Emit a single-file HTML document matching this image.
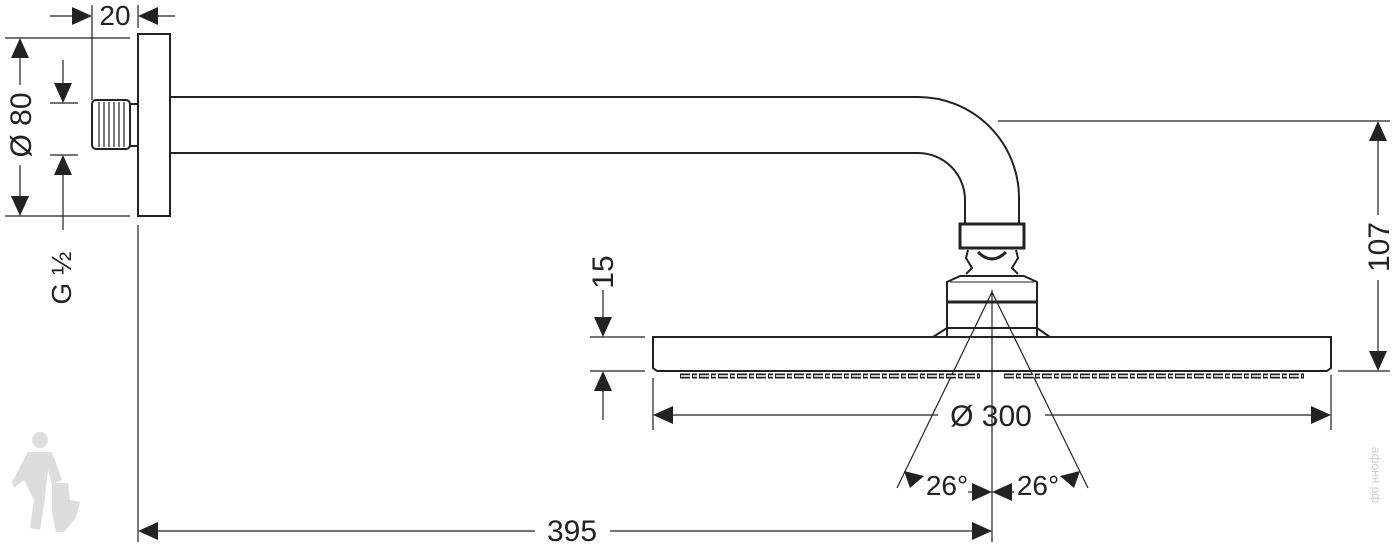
<!DOCTYPE html>
<html><head><meta charset="utf-8"><style>
html,body{margin:0;padding:0;background:#fff;width:1392px;height:544px;overflow:hidden}
svg text{font-family:"Liberation Sans",sans-serif;fill:#222}
</style></head><body>
<svg width="1392" height="544" viewBox="0 0 1392 544" xmlns="http://www.w3.org/2000/svg">
<g fill="none" stroke="#222" stroke-width="1.2">
<line x1="5" y1="38" x2="130" y2="38"/>
<line x1="5" y1="216" x2="130" y2="216"/>
<line x1="50" y1="103" x2="78" y2="103"/>
<line x1="50" y1="155" x2="78" y2="155"/>
<line x1="92" y1="5" x2="92" y2="100"/>
<line x1="138" y1="5" x2="138" y2="28"/>
<line x1="138" y1="225" x2="138" y2="542"/>
<line x1="992" y1="290" x2="992" y2="542"/>
<line x1="998" y1="121" x2="1390" y2="121"/>
<line x1="1338" y1="371" x2="1390" y2="371"/>
<line x1="590" y1="337" x2="645" y2="337"/>
<line x1="590" y1="371" x2="645" y2="371"/>
<line x1="653" y1="378" x2="653" y2="430"/>
<line x1="1331" y1="375" x2="1331" y2="430"/>
<line x1="20" y1="40" x2="20" y2="85"/>
<line x1="20" y1="165" x2="20" y2="214"/>
<line x1="63" y1="60" x2="63" y2="101"/>
<line x1="63" y1="157" x2="63" y2="230"/>
<line x1="50" y1="16" x2="90" y2="16"/>
<line x1="140" y1="16" x2="175" y2="16"/>
<line x1="140" y1="531" x2="535" y2="531"/>
<line x1="610" y1="531" x2="990" y2="531"/>
<line x1="655" y1="415" x2="938" y2="415"/>
<line x1="1045" y1="415" x2="1329" y2="415"/>
<line x1="1378" y1="123" x2="1378" y2="215"/>
<line x1="1378" y1="280" x2="1378" y2="369"/>
<line x1="603" y1="290" x2="603" y2="335"/>
<line x1="603" y1="373" x2="603" y2="420"/>
<line x1="992" y1="292" x2="897" y2="488"/>
<line x1="992" y1="292" x2="1088" y2="488"/>
<line x1="968" y1="492" x2="975" y2="492"/>
<line x1="1008" y1="492" x2="1014" y2="492"/>
</g>
<g fill="none" stroke="#222" stroke-width="2">
<rect x="138" y="34" width="32" height="182"/>
<rect x="92" y="100" width="38" height="49" rx="4"/>
<rect x="130" y="104" width="8" height="42"/>
<path d="M170 97 H918 A101 101 0 0 1 1019 198 V224"/>
<path d="M170 153 H918 A47 47 0 0 1 965 200 V224"/>
<rect x="960" y="224" width="64" height="24" stroke-width="3"/>
<path d="M968 250 L966 258 L972 268 L966 274 M1016 250 L1018 258 L1012 268 L1018 274"/>
<path d="M978 252 Q992 266 1006 252" stroke-width="3"/>
<path d="M947 337 V282 L960 276 H1024 L1037 282 V337"/>
<line x1="947" y1="302" x2="1037" y2="302" stroke-width="3"/>
<path d="M933 337 L947 328 H1037 L1050 337"/>
<path d="M653 337 H1331 V368 L1327 371 H657 L653 368 Z"/>
</g>
<g stroke="#222" stroke-width="1">
<line x1="950" y1="282" x2="1034" y2="282"/>
</g>
<g fill="none" stroke="#222" stroke-width="5" stroke-dasharray="10 2 5 2">
<line x1="680" y1="376" x2="980" y2="376"/>
<line x1="1004" y1="376" x2="1304" y2="376"/>
</g>
<g fill="none" stroke="#fff" stroke-width="1.5" stroke-dasharray="10 2 5 2">
<line x1="681" y1="376" x2="979" y2="376"/>
<line x1="1005" y1="376" x2="1303" y2="376"/>
</g>
<g stroke="#222" stroke-width="1.2">
<line x1="99" y1="102" x2="99" y2="147"/><line x1="104" y1="102" x2="104" y2="147"/>
<line x1="109" y1="102" x2="109" y2="147"/><line x1="114" y1="102" x2="114" y2="147"/>
<line x1="119" y1="102" x2="119" y2="147"/><line x1="124" y1="102" x2="124" y2="147"/>
</g>
<g fill="#222">
<polygon points="20,38 11,58 29,58"/>
<polygon points="20,216 11,196 29,196"/>
<polygon points="63,103 54,83 72,83"/>
<polygon points="63,155 54,175 72,175"/>
<polygon points="92,16 72,7 72,25"/>
<polygon points="138,16 158,7 158,25"/>
<polygon points="138,531 158,522 158,540"/>
<polygon points="992,531 972,522 972,540"/>
<polygon points="653,415 673,406 673,424"/>
<polygon points="1331,415 1311,406 1311,424"/>
<polygon points="1378,121 1369,141 1387,141"/>
<polygon points="1378,371 1369,351 1387,351"/>
<polygon points="603,337 594,317 612,317"/>
<polygon points="603,371 594,391 612,391"/>
<polygon points="992,492 972,483 972,501"/>
<polygon points="992,492 1012,483 1012,501"/>
<polygon points="904,471 924,476 910,488"/>
<polygon points="1080,471 1060,476 1074,488"/>
</g>
<text x="115" y="25" font-size="28" text-anchor="middle">20</text>
<text transform="translate(31,125) rotate(-90)" font-size="30" text-anchor="middle">Ø 80</text>
<text transform="translate(71,278) rotate(-90)" font-size="28" text-anchor="middle">G ½</text>
<text x="572" y="541" font-size="30" text-anchor="middle">395</text>
<text x="991" y="426" font-size="30" text-anchor="middle">Ø 300</text>
<text transform="translate(1389,247) rotate(-90)" font-size="30" text-anchor="middle">107</text>
<text transform="translate(613,272) rotate(-90)" font-size="30" text-anchor="middle">15</text>
<text x="947" y="495" font-size="28" text-anchor="middle">26°</text>
<text x="1038" y="495" font-size="28" text-anchor="middle">26°</text>
<g fill="#ddd">
<circle cx="40" cy="440" r="8"/>
<path d="M28 452 L52 452 L62 480 L52 484 L48 470 L44 505 L40 530 L30 528 L34 500 L24 480 L14 488 L12 482 Z"/>
<path d="M52 483 L68 483 L70 500 L80 502 L76 518 L64 532 L56 532 L52 512 Z"/>
</g>
<text transform="translate(1372,475) rotate(90)" font-size="12" text-anchor="middle" style="fill:#ccc">афоня.рф</text>
</svg>
</body></html>
